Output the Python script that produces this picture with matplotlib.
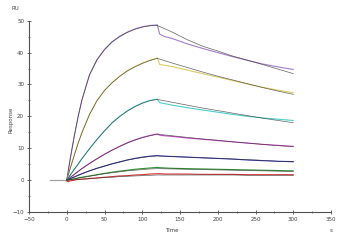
import matplotlib
matplotlib.use("Agg")
from matplotlib import pyplot as plt
from matplotlib.ticker import MultipleLocator

# association phase (0-120 s) and dissociation phase (120-300 s)
t_on  = [0, 2, 5, 10, 15, 20, 30, 40, 50, 60, 70, 80, 90, 100, 110, 120]
t_off = [120, 123, 130, 140, 160, 180, 200, 220, 240, 260, 280, 300]
t_off_fit = [120, 140, 160, 180, 200, 220, 240, 260, 280, 300]

baseline_t = [-22, 0]
baseline_y = [0, 0]

data_on = {
    "c1": [0, 2.9, 7.2, 13.8, 19.8, 25.0, 33.0, 37.8, 41.0, 43.4, 45.1, 46.4, 47.4, 48.1, 48.5, 48.7],
    "c2": [0, 1.6, 4.0, 7.9, 11.6, 14.9, 20.6, 25.0, 28.2, 30.6, 32.6, 34.3, 35.6, 36.7, 37.6, 38.3],
    "c3": [0, 0.7, 1.7, 3.4, 5.0, 6.7, 9.8, 12.8, 15.5, 18.0, 20.0, 21.7, 23.1, 24.2, 25.0, 25.4],
    "c4": [0, 0.3, 0.9, 1.8, 2.7, 3.6, 5.2, 6.7, 8.1, 9.4, 10.6, 11.7, 12.6, 13.4, 14.0, 14.5],
    "c5": [0, 0.2, 0.5, 1.0, 1.5, 2.0, 2.9, 3.7, 4.4, 5.1, 5.7, 6.3, 6.8, 7.2, 7.5, 7.7],
    "c6": [0, 0.0, 0.2, 0.4, 0.7, 0.9, 1.3, 1.7, 2.1, 2.5, 2.8, 3.1, 3.4, 3.6, 3.8, 4.0],
    "c7": [-0.3, -0.5, -0.2, 0.0, 0.2, 0.3, 0.5, 0.7, 0.9, 1.1, 1.3, 1.4, 1.6, 1.7, 1.9, 2.0],
}
data_off = {
    "c1": [48.7, 45.8, 45.0, 44.4, 42.7, 41.3, 40.0, 38.7, 37.5, 36.4, 35.5, 34.7],
    "c2": [38.3, 36.3, 36.0, 35.6, 34.5, 33.4, 32.3, 31.2, 30.1, 29.1, 28.2, 27.4],
    "c3": [25.4, 24.3, 24.0, 23.5, 22.7, 22.0, 21.3, 20.6, 20.0, 19.5, 19.1, 18.7],
    "c4": [14.5, 14.1, 13.9, 13.7, 13.2, 12.8, 12.4, 12.0, 11.6, 11.2, 10.9, 10.6],
    "c5": [7.7, 7.6, 7.5, 7.4, 7.2, 7.0, 6.8, 6.6, 6.3, 6.1, 5.9, 5.8],
    "c6": [4.0, 3.9, 3.8, 3.7, 3.6, 3.5, 3.4, 3.3, 3.2, 3.1, 3.0, 2.9],
    "c7": [2.0, 2.0, 1.9, 1.9, 1.9, 1.8, 1.8, 1.8, 1.7, 1.7, 1.7, 1.7],
}

fit_on = {
    "c1": [0, 3.0, 7.3, 13.9, 19.9, 25.1, 32.9, 37.7, 40.9, 43.3, 45.0, 46.3, 47.3, 48.0, 48.4, 48.5],
    "c2": [0, 1.6, 4.0, 7.8, 11.5, 14.8, 20.5, 24.9, 28.1, 30.5, 32.5, 34.2, 35.5, 36.6, 37.5, 38.2],
    "c3": [0, 0.7, 1.7, 3.4, 5.0, 6.7, 9.8, 12.7, 15.4, 17.9, 19.9, 21.6, 23.0, 24.1, 24.9, 25.3],
    "c4": [0, 0.3, 0.9, 1.8, 2.7, 3.6, 5.2, 6.7, 8.1, 9.4, 10.5, 11.6, 12.5, 13.3, 13.9, 14.4],
    "c5": [0, 0.2, 0.5, 1.0, 1.5, 2.0, 2.9, 3.7, 4.4, 5.1, 5.7, 6.3, 6.7, 7.1, 7.4, 7.6],
    "c6": [0, 0.1, 0.2, 0.4, 0.6, 0.8, 1.2, 1.6, 2.0, 2.3, 2.6, 2.9, 3.1, 3.3, 3.5, 3.6],
    "c7": [0, 0.0, 0.1, 0.1, 0.2, 0.3, 0.4, 0.6, 0.8, 0.9, 1.1, 1.2, 1.3, 1.4, 1.5, 1.6],
}
fit_off = {
    "c1": [48.5, 46.4, 44.0, 42.0, 40.5, 38.9, 37.6, 36.2, 34.8, 33.4],
    "c2": [38.2, 36.7, 35.3, 33.9, 32.6, 31.4, 30.2, 29.0, 27.9, 26.9],
    "c3": [25.3, 24.4, 23.5, 22.6, 21.8, 21.0, 20.2, 19.4, 18.7, 18.0],
    "c4": [14.4, 13.9, 13.4, 12.9, 12.5, 12.0, 11.6, 11.2, 10.8, 10.5],
    "c5": [7.6, 7.4, 7.2, 7.0, 6.8, 6.6, 6.4, 6.2, 5.9, 5.7],
    "c6": [3.6, 3.5, 3.4, 3.3, 3.2, 3.1, 3.0, 2.9, 2.8, 2.7],
    "c7": [1.6, 1.6, 1.6, 1.6, 1.6, 1.6, 1.5, 1.5, 1.5, 1.5],
}

colors = {
    "c1": "#a47ccc",
    "c2": "#dccb66",
    "c3": "#4ccccc",
    "c4": "#c848c8",
    "c5": "#3434b0",
    "c6": "#2e902e",
    "c7": "#d83030",
}

fig = plt.figure(figsize=(3.44, 2.40), dpi=100)
ax = fig.add_axes([0.0843, 0.1167, 0.878, 0.797])

ax.plot(baseline_t, baseline_y, color="#a0a0a0", lw=0.9)

for key in colors:
    ax.plot(t_on + t_off[1:], data_on[key] + data_off[key][1:], color=colors[key], lw=0.8)
    ax.plot(t_on + t_off_fit[1:], fit_on[key] + fit_off[key][1:], color="#303030", lw=0.5, alpha=0.75)

ax.set_xlim(-50, 350)
ax.set_ylim(-10, 50)
ax.xaxis.set_major_locator(MultipleLocator(50))
ax.xaxis.set_minor_locator(MultipleLocator(25))
ax.yaxis.set_major_locator(MultipleLocator(10))
ax.yaxis.set_minor_locator(MultipleLocator(5))

for s in ["top", "right"]:
    ax.spines[s].set_visible(False)
for s in ["left", "bottom"]:
    ax.spines[s].set_color("#505050")
    ax.spines[s].set_linewidth(0.8)

ax.tick_params(which="major", direction="inout", length=3, width=0.6, colors="#505050",
               labelsize=4, labelcolor="#404040", pad=2)
ax.tick_params(which="minor", direction="inout", length=2, width=0.5, colors="#505050")

fig.text(15/344, 1 - 8/240, "RU", fontsize=4, color="#404040", ha="center", va="center")
fig.text(11/344, 1 - 120/240, "Response", fontsize=4, color="#404040", ha="center", va="center", rotation=90)
fig.text(172/344, 1 - 231/240, "Time", fontsize=4, color="#404040", ha="center", va="center")
fig.text(331/344, 1 - 231/240, "s", fontsize=4, color="#404040", ha="center", va="center")

fig.savefig("out.png", dpi=100)
